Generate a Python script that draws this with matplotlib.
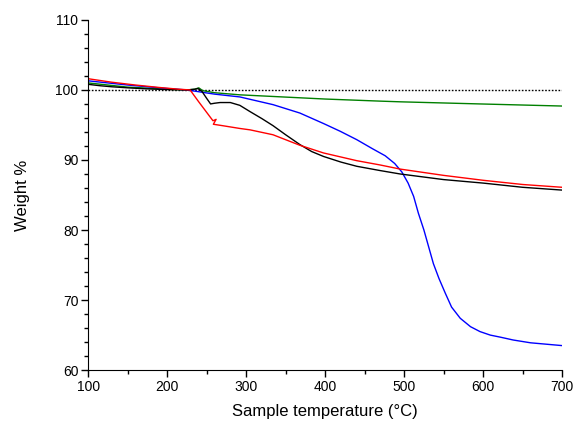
import numpy as np
import matplotlib
matplotlib.use('Agg')
import matplotlib.pyplot as plt
import matplotlib.ticker as ticker

plt.rcParams['font.family'] = ['Liberation Sans', 'DejaVu Sans']

# curves (temperature in C, weight %)
t_black = [100, 115, 130, 150, 175, 200, 225, 235, 239, 244, 250, 255, 260, 267, 280, 292,
           305, 320, 334, 350, 368, 383, 398, 420, 440, 469, 495, 550, 600, 650, 700]
w_black = [100.8, 100.6, 100.45, 100.3, 100.15, 100.05, 100.0, 100.1, 100.2, 99.8, 98.8, 98.0,
           98.1, 98.2, 98.2, 97.8, 96.9, 95.9, 94.9, 93.6, 92.2, 91.2, 90.5, 89.7, 89.1, 88.5,
           88.0, 87.2, 86.7, 86.1, 85.7]

t_red = [100, 130, 160, 190, 215, 229, 240, 250, 258, 262, 258.5, 270, 292, 305, 334, 368,
         398, 440, 469, 495, 550, 600, 650, 700]
w_red = [101.6, 101.1, 100.7, 100.35, 100.1, 100.0, 98.3, 96.8, 95.6, 95.8, 95.1, 94.9, 94.5,
         94.3, 93.6, 92.1, 91.0, 89.9, 89.3, 88.7, 87.8, 87.1, 86.5, 86.1]

t_blue = [100, 150, 200, 225, 260, 292, 334, 368, 398, 419, 440, 460, 476, 488, 497, 505, 512,
          518, 525, 531, 537, 544, 552, 560, 571, 584, 596, 609, 622, 638, 660, 680, 700]
w_blue = [101.3, 100.7, 100.2, 100.0, 99.4, 99.0, 97.9, 96.7, 95.2, 94.1, 92.9, 91.6, 90.6,
          89.5, 88.3, 86.7, 84.8, 82.4, 80.0, 77.6, 75.2, 73.1, 71.0, 69.0, 67.4, 66.2, 65.5,
          65.0, 64.7, 64.3, 63.9, 63.7, 63.5]

t_green = [100, 150, 200, 225, 235, 240, 245, 260, 292, 400, 470, 496, 596, 700]
w_green = [101.0, 100.4, 100.1, 100.0, 100.1, 100.3, 99.9, 99.6, 99.3, 98.7, 98.4, 98.3, 98.0, 97.7]

ref_t = [100, 700]
ref_w = [100, 100]

fig = plt.figure(figsize=(5.76, 4.23), dpi=100)
ax = fig.add_axes([0.153, 0.125, 0.823, 0.828])

ax.plot(ref_t, ref_w, color='black', linestyle=(0, (1.2, 1.2)), lw=1)
ax.plot(t_green, w_green, color='#008000', lw=1)
ax.plot(t_blue, w_blue, color='#0000ff', lw=1)
ax.plot(t_black, w_black, color='black', lw=1)
ax.plot(t_red, w_red, color='#ff0000', lw=1)

ax.set_xlim(100, 700)
ax.set_ylim(60, 110)
ax.xaxis.set_major_locator(ticker.MultipleLocator(100))
ax.xaxis.set_minor_locator(ticker.MultipleLocator(50))
ax.yaxis.set_major_locator(ticker.MultipleLocator(10))
ax.yaxis.set_minor_locator(ticker.MultipleLocator(2))
ax.spines['top'].set_visible(False)
ax.spines['right'].set_visible(False)
ax.tick_params(which='major', length=5, width=1, labelsize=10, direction='out', pad=2)
ax.tick_params(which='minor', length=3, width=1, direction='out')

ax.set_xlabel('Sample temperature (\u00b0C)', fontsize=12, labelpad=7)
ax.set_ylabel('Weight %', fontsize=12, labelpad=18)

fig.savefig('out.png', dpi=100)
